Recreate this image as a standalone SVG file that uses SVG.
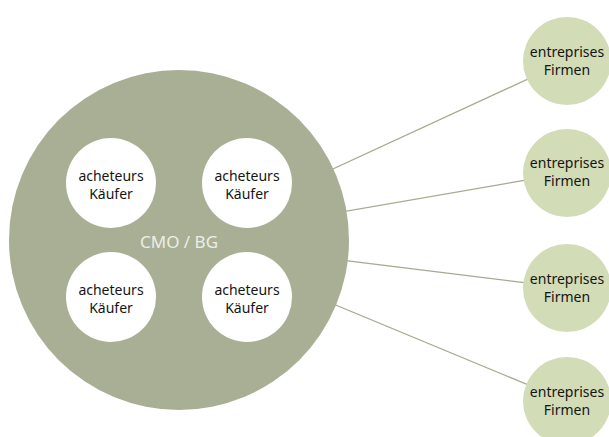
<svg xmlns="http://www.w3.org/2000/svg" width="609" height="437" viewBox="0 0 609 437">
<style>
.t{font-family:"Noto Sans","Liberation Sans",sans-serif;font-size:14px;fill:#141414;text-anchor:middle}
.c{font-family:"Noto Sans","Liberation Sans",sans-serif;font-size:17px;fill:#eceee6;text-anchor:middle}
.buyer{fill:#ffffff}
.firm{fill:#d2dcb7}
.conn{stroke:#a6ab8f;stroke-width:1.3;fill:none}
</style>
<rect width="609" height="437" fill="#ffffff"/>
<g id="connectors">
<line class="conn" x1="179" y1="240" x2="567" y2="61"/>
<line class="conn" x1="179" y1="240" x2="567" y2="173"/>
<line class="conn" x1="179" y1="240" x2="567" y2="288"/>
<line class="conn" x1="179" y1="240" x2="567" y2="401"/>
</g>
<g id="cmo">
<circle cx="179" cy="240" r="170" fill="#a9af95"/>
<text class="c" x="179" y="248">CMO / BG</text>
</g>
<g id="buyer1"><circle class="buyer" cx="111" cy="183" r="45"/><text class="t" x="111" y="181">acheteurs</text><text class="t" x="111" y="199">Käufer</text></g>
<g id="buyer2"><circle class="buyer" cx="247" cy="183" r="45"/><text class="t" x="247" y="181">acheteurs</text><text class="t" x="247" y="199">Käufer</text></g>
<g id="buyer3"><circle class="buyer" cx="111" cy="297" r="45"/><text class="t" x="111" y="295">acheteurs</text><text class="t" x="111" y="313">Käufer</text></g>
<g id="buyer4"><circle class="buyer" cx="247" cy="297" r="45"/><text class="t" x="247" y="295">acheteurs</text><text class="t" x="247" y="313">Käufer</text></g>
<g id="firm1"><circle class="firm" cx="567" cy="61" r="44"/><text class="t" x="567" y="57">entreprises</text><text class="t" x="567" y="75">Firmen</text></g>
<g id="firm2"><circle class="firm" cx="567" cy="173" r="44"/><text class="t" x="567" y="168">entreprises</text><text class="t" x="567" y="186">Firmen</text></g>
<g id="firm3"><circle class="firm" cx="567" cy="288" r="44"/><text class="t" x="567" y="284">entreprises</text><text class="t" x="567" y="302">Firmen</text></g>
<g id="firm4"><circle class="firm" cx="567" cy="401" r="44"/><text class="t" x="567" y="397">entreprises</text><text class="t" x="567" y="415">Firmen</text></g>
</svg>
